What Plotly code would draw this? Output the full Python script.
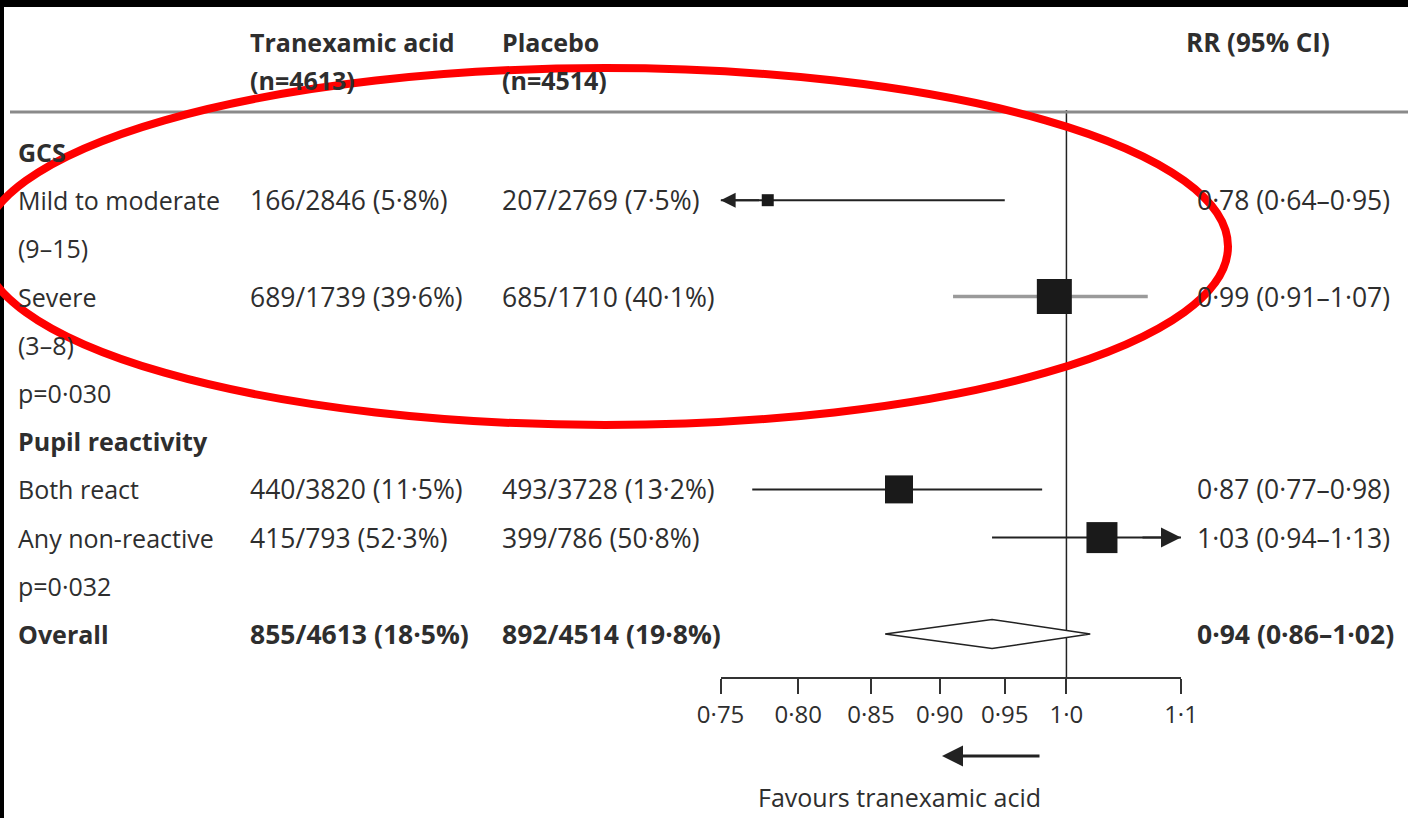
import math
import plotly.graph_objects as go

# ---------------- data ----------------
row_labels = ["GCS", "Mild to moderate", "(9–15)", "Severe", "(3–8)", "p=0·030",
              "Pupil reactivity", "Both react", "Any non-reactive", "p=0·032", "Overall"]
bold_rows = [0, 6, 10]

sub_rows = [1, 3, 7, 8]
txa_counts = ["166/2846 (5·8%)", "689/1739 (39·6%)", "440/3820 (11·5%)", "415/793 (52·3%)"]
pla_counts = ["207/2769 (7·5%)", "685/1710 (40·1%)", "493/3728 (13·2%)", "399/786 (50·8%)"]
rr = [0.78, 0.99, 0.87, 1.03]
rr_lo = [0.64, 0.91, 0.77, 0.94]
rr_hi = [0.95, 1.07, 0.98, 1.13]

overall_row = 10
overall_txa = "855/4613 (18·5%)"
overall_pla = "892/4514 (19·8%)"
overall_rr, overall_lo, overall_hi = 0.94, 0.86, 1.02

tick_vals = [0.75, 0.80, 0.85, 0.90, 0.95, 1.0, 1.1]
tick_text = ["0·75", "0·80", "0·85", "0·90", "0·95", "1·0", "1·1"]
AXIS_MIN, AXIS_MAX = 0.75, 1.1

# ---------------- styles / layout ----------------
W, H = 1408, 818
FONT = "Open Sans"
FS = 25
FS_NUM = 26.5
TXT = "#2e2e2e"
marker_sizes = [12, 35, 28, 31]
ci_colors = ["#222222", "#9a9a9a", "#222222", "#222222"]
ci_widths = [2, 3.5, 2, 2]

ROW0_PX, ROW_STEP = 152, 48.2
AXIS_Y_PX = 677
AX_L_PX, AX_R_PX = 720.6, 1181
COL_LABEL, COL_TXA, COL_PLA, COL_RR = 16, 248, 500, 1195


def px(x):
    return x / W


def py(y):
    return 1 - y / H


def fmt(v):
    return f"{v:.2f}".replace(".", "·")


def rr_str(e, l, h):
    return f"{fmt(e)} ({fmt(l)}–{fmt(h)})"


fig = go.Figure()

# reference line at RR = 1
fig.add_trace(go.Scatter(x=[1.0, 1.0], y=[(110 - ROW0_PX) / ROW_STEP, 30],
                         mode="lines", line=dict(color="#222222", width=1.5),
                         hoverinfo="skip", showlegend=False))

annotations = []
for i, r in enumerate(sub_rows):
    x0 = max(rr_lo[i], AXIS_MIN)
    x1 = min(rr_hi[i], AXIS_MAX)
    fig.add_trace(go.Scatter(x=[x0, x1], y=[r, r], mode="lines",
                             line=dict(color=ci_colors[i], width=ci_widths[i]),
                             hoverinfo="skip", showlegend=False))
    fig.add_trace(go.Scatter(x=[rr[i]], y=[r], mode="markers",
                             marker=dict(symbol="square", size=marker_sizes[i], color="#1a1a1a",
                                         line=dict(width=0)),
                             cliponaxis=False, showlegend=False))
    if rr_lo[i] < AXIS_MIN:
        annotations.append(dict(x=math.log10(AXIS_MIN), y=r, xref="x", yref="y", text="",
                                showarrow=True, ax=40, ay=0, arrowhead=2, arrowsize=1.5,
                                arrowwidth=2, arrowcolor="#222222", standoff=0))
    if rr_hi[i] > AXIS_MAX:
        annotations.append(dict(x=math.log10(AXIS_MAX), y=r, xref="x", yref="y", text="",
                                showarrow=True, ax=-40, ay=0, arrowhead=2, arrowsize=2.0,
                                arrowwidth=2, arrowcolor="#222222", standoff=0))

# overall diamond
dh = 0.3
fig.add_trace(go.Scatter(x=[overall_lo, overall_rr, overall_hi, overall_rr, overall_lo],
                         y=[overall_row, overall_row - dh, overall_row, overall_row + dh, overall_row],
                         mode="lines", fill="toself", fillcolor="white",
                         line=dict(color="#222222", width=1.5), hoverinfo="skip",
                         showlegend=False))


def txt(x, y, s, bold=False, yref="y", size=FS, xanchor="left"):
    return dict(x=x, y=y, xref="paper", yref=yref, text=s, showarrow=False,
                xanchor=xanchor, yanchor="middle",
                font=dict(family=FONT, size=size, color=TXT, weight=700 if bold else 400))


for r, lab in enumerate(row_labels):
    annotations.append(txt(px(COL_LABEL), r, lab, bold=r in bold_rows))
for i, r in enumerate(sub_rows):
    annotations.append(txt(px(COL_TXA), r, txa_counts[i], size=FS_NUM))
    annotations.append(txt(px(COL_PLA), r, pla_counts[i], size=FS_NUM))
    annotations.append(txt(px(COL_RR), r, rr_str(rr[i], rr_lo[i], rr_hi[i]), size=FS_NUM))
annotations.append(txt(px(COL_TXA), overall_row, overall_txa, bold=True, size=FS_NUM))
annotations.append(txt(px(COL_PLA), overall_row, overall_pla, bold=True, size=FS_NUM))
annotations.append(txt(px(COL_RR), overall_row, rr_str(overall_rr, overall_lo, overall_hi),
                       bold=True, size=FS_NUM))

# headers
annotations.append(txt(px(COL_TXA), py(42), "Tranexamic acid", bold=True, yref="paper"))
annotations.append(txt(px(COL_TXA), py(80), "(n=4613)", bold=True, yref="paper"))
annotations.append(txt(px(COL_PLA), py(42), "Placebo", bold=True, yref="paper"))
annotations.append(txt(px(COL_PLA), py(80), "(n=4514)", bold=True, yref="paper"))
annotations.append(txt(px(1184), py(42), "RR (95% CI)", bold=True, yref="paper", size=26))

# favours arrow + text
annotations.append(dict(x=px(942), y=py(756), xref="paper", yref="paper", text="",
                        showarrow=True, ax=99, ay=0, arrowhead=2, arrowsize=1.4,
                        arrowwidth=3, arrowcolor="#222222", standoff=0))
annotations.append(txt(px(899), py(797), "Favours tranexamic acid", yref="paper",
                       size=25, xanchor="center"))

shapes = [
    # black border strips
    dict(type="rect", xref="paper", yref="paper", x0=0, x1=1, y0=py(7), y1=1,
         fillcolor="black", line=dict(width=0), layer="above"),
    dict(type="rect", xref="paper", yref="paper", x0=0, x1=px(4), y0=0, y1=1,
         fillcolor="black", line=dict(width=0), layer="above"),
    # header rule
    dict(type="line", xref="paper", yref="paper", x0=px(10), x1=1, y0=py(112), y1=py(112),
         line=dict(color="#8a8a8a", width=3)),
    # red ellipse
    dict(type="circle", xref="paper", yref="paper", x0=px(-18), x1=px(1228),
         y0=py(425), y1=py(68), line=dict(color="#ff0000", width=8), layer="above"),
]

fig.update_layout(
    width=W, height=H, margin=dict(l=0, r=0, t=0, b=0, autoexpand=False),
    paper_bgcolor="white", plot_bgcolor="rgba(0,0,0,0)",
    showlegend=False,
    xaxis=dict(type="log", range=[math.log10(AXIS_MIN), math.log10(AXIS_MAX)],
               domain=[px(AX_L_PX), px(AX_R_PX)], tickvals=tick_vals, ticktext=tick_text,
               ticks="outside", ticklen=15, tickwidth=2, tickcolor="#333333",
               showline=True, linecolor="#333333", linewidth=2, showgrid=False,
               zeroline=False, tickfont=dict(family=FONT, size=24, color=TXT),
               fixedrange=True, automargin=False),
    yaxis=dict(domain=[py(AXIS_Y_PX), 1],
               range=[(AXIS_Y_PX - ROW0_PX) / ROW_STEP, -ROW0_PX / ROW_STEP],
               visible=False, fixedrange=True, automargin=False),
    annotations=annotations, shapes=shapes,
)

fig.write_html(
    "out.html",
    config={"responsive": False, "displayModeBar": False},
    post_script="document.body.style.margin='0';document.documentElement.style.margin='0';"
                "document.body.style.overflow='hidden';document.documentElement.style.overflow='hidden';",
)
